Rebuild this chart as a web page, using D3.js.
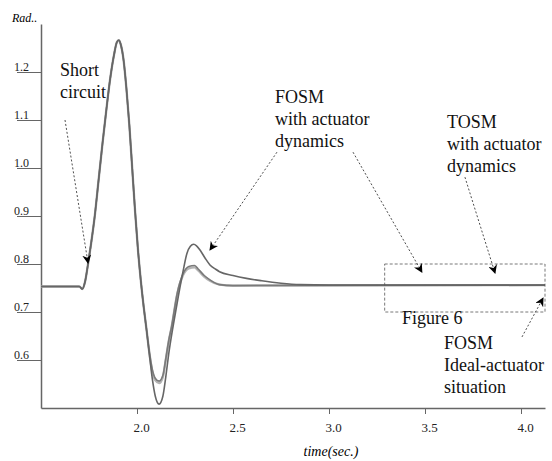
<!DOCTYPE html>
<html>
<head>
<meta charset="utf-8">
<script src="https://cdn.jsdelivr.net/npm/d3@7"></script>
<style>
  body { margin: 0; background: #fff; }
  svg { display: block; }
  svg text { font-family: "Liberation Serif", "DejaVu Serif", serif; }
  .axis path, .axis line { stroke: #666; }
  .axis text { fill: #222; }
  .note { font-size: 18px; fill: #111; }
</style>
</head>
<body>
<script>
// Axis ticks
const xTicks = [2.0, 2.5, 3.0, 3.5, 4.0];
const yTicks = [0.6, 0.7, 0.8, 0.9, 1.0, 1.1, 1.2];

// Common part of the response (fault at ~1.7 s), [time, rad]
const commonPart = [
  [1.50, 0.753], [1.70, 0.753], [1.715, 0.748], [1.73, 0.764], [1.745, 0.80],
  [1.76, 0.84], [1.78, 0.90], [1.80, 0.975], [1.82, 1.05], [1.84, 1.12],
  [1.86, 1.185], [1.88, 1.235], [1.895, 1.262], [1.905, 1.266], [1.915, 1.258],
  [1.93, 1.225], [1.945, 1.165], [1.96, 1.09], [1.975, 1.00], [1.99, 0.91],
  [2.005, 0.83], [2.02, 0.765], [2.035, 0.71], [2.05, 0.662]
];

// FOSM with actuator dynamics
const fosmActuator = [
  [2.065, 0.61], [2.08, 0.56], [2.095, 0.525], [2.115, 0.508], [2.135, 0.525],
  [2.15, 0.565], [2.165, 0.612], [2.19, 0.675], [2.215, 0.732], [2.24, 0.785],
  [2.26, 0.822], [2.278, 0.837], [2.295, 0.841], [2.31, 0.838], [2.33, 0.828],
  [2.355, 0.812], [2.38, 0.798], [2.41, 0.789], [2.43, 0.784], [2.5, 0.776],
  [2.57, 0.770], [2.65, 0.765], [2.75, 0.760], [2.85, 0.757], [3.0, 0.756],
  [4.125, 0.756]
];

// FOSM ideal-actuator situation
const fosmIdeal = [
  [2.065, 0.615], [2.08, 0.58], [2.095, 0.562], [2.115, 0.556], [2.135, 0.568],
  [2.149, 0.60], [2.165, 0.64], [2.18, 0.669], [2.21, 0.74], [2.24, 0.78],
  [2.27, 0.795], [2.30, 0.797], [2.32, 0.789], [2.35, 0.776], [2.38, 0.767],
  [2.43, 0.757], [2.5, 0.755], [4.125, 0.756]
];

// TOSM with actuator dynamics
const tosmActuator = [
  [2.065, 0.613], [2.08, 0.575], [2.095, 0.558], [2.115, 0.552], [2.135, 0.565],
  [2.149, 0.598], [2.165, 0.638], [2.18, 0.668], [2.21, 0.738], [2.24, 0.777],
  [2.27, 0.791], [2.30, 0.793], [2.32, 0.786], [2.35, 0.774], [2.38, 0.765],
  [2.43, 0.757], [2.5, 0.755], [4.125, 0.756]
];

// Annotations in data units
const notes = [
  { x: 1.599, y: 1.192, lines: ["Short", "circuit"] },
  { x: 2.719, y: 1.136, lines: ["FOSM", "with actuator", "dynamics"] },
  { x: 3.615, y: 1.083, lines: ["TOSM", "with actuator", "dynamics"] },
  { x: 3.380, y: 0.675, lines: ["Figure 6"] },
  { x: 3.599, y: 0.622, lines: ["FOSM", "Ideal-actuator", "situation"] }
];
const arrows = [
  { from: [1.625, 1.100], to: [1.745, 0.802] },
  { from: [2.729, 1.033], to: [2.380, 0.829] },
  { from: [3.125, 1.033], to: [3.484, 0.783] },
  { from: [3.708, 0.981], to: [3.865, 0.781] },
  { from: [4.005, 0.648], to: [4.115, 0.729] }
];
const zoomBox = { x0: 3.29, x1: 4.125, y0: 0.7, y1: 0.8 };

const W = 552, H = 461;
const margin = { left: 41, right: 7, top: 24, bottom: 53 };

const x = d3.scaleLinear().domain([1.5, 4.125]).range([margin.left, W - margin.right]);
const y = d3.scaleLinear().domain([0.5, 1.3]).range([H - margin.bottom, margin.top]);

const svg = d3.select("body").append("svg").attr("width", W).attr("height", H);

// Y axis, ticks run left under the labels
const yAxis = svg.append("g")
  .attr("class", "axis")
  .attr("transform", `translate(${margin.left},0)`)
  .call(d3.axisLeft(y).tickValues(yTicks).tickSizeInner(24).tickSizeOuter(0).tickFormat(d3.format(".1f")));
yAxis.attr("font-family", null);
yAxis.select(".domain").attr("stroke-width", 1.5);
yAxis.selectAll(".tick line").attr("stroke", "#777");
yAxis.selectAll(".tick text")
  .attr("text-anchor", "start")
  .attr("x", -27)
  .attr("dy", "-0.15em")
  .style("font-size", "12px");

// X axis
const xAxis = svg.append("g")
  .attr("class", "axis")
  .attr("transform", `translate(0,${y(0.5)})`)
  .call(d3.axisBottom(x).tickValues(xTicks).tickSizeInner(6).tickSizeOuter(0).tickPadding(9).tickFormat(d3.format(".1f")));
xAxis.attr("font-family", null);
xAxis.select(".domain").attr("stroke-width", 1.5);
xAxis.selectAll(".tick text").attr("dx", 4).style("font-size", "13px");

// Axis titles
svg.append("text")
  .attr("x", 12).attr("y", 22)
  .style("font-style", "italic").style("font-size", "12px")
  .text("Rad..");
svg.append("text")
  .attr("x", x(3.0) + 2).attr("y", 456)
  .attr("text-anchor", "middle")
  .style("font-style", "italic").style("font-size", "14px")
  .text("time(sec.)");

// Curves
const line = d3.line().x(d => x(d[0])).y(d => y(d[1])).curve(d3.curveMonotoneX);
const series = [
  { data: commonPart.concat(tosmActuator), color: "#b4b4b4", width: 2.4 },
  { data: commonPart.concat(fosmIdeal), color: "#7a7a7a", width: 1.6 },
  { data: commonPart.concat(fosmActuator), color: "#666", width: 1.6 }
];
svg.append("g").selectAll("path")
  .data(series)
  .join("path")
  .attr("d", d => line(d.data))
  .attr("fill", "none")
  .attr("stroke", d => d.color)
  .attr("stroke-width", d => d.width);

// Dashed zoom box
svg.append("rect")
  .attr("x", x(zoomBox.x0))
  .attr("y", y(zoomBox.y1))
  .attr("width", x(zoomBox.x1) - x(zoomBox.x0))
  .attr("height", y(zoomBox.y0) - y(zoomBox.y1))
  .attr("fill", "none")
  .attr("stroke", "#555")
  .attr("stroke-width", 0.8)
  .attr("stroke-dasharray", "3,2");

// Arrow marker
svg.append("defs").append("marker")
  .attr("id", "head")
  .attr("viewBox", "0 0 10 10")
  .attr("refX", 9).attr("refY", 5)
  .attr("markerWidth", 9).attr("markerHeight", 9)
  .attr("markerUnits", "userSpaceOnUse")
  .attr("orient", "auto")
  .append("path")
  .attr("d", "M0,0 L10,5 L0,10 L3,5 z")
  .attr("fill", "#000");

svg.append("g").selectAll("line")
  .data(arrows)
  .join("line")
  .attr("x1", d => x(d.from[0])).attr("y1", d => y(d.from[1]))
  .attr("x2", d => x(d.to[0])).attr("y2", d => y(d.to[1]))
  .attr("stroke", "#222")
  .attr("stroke-width", 0.8)
  .attr("stroke-dasharray", "2,2")
  .attr("marker-end", "url(#head)");

// Text notes
const noteG = svg.append("g").selectAll("text")
  .data(notes)
  .join("text")
  .attr("class", "note")
  .attr("x", d => x(d.x))
  .attr("y", d => y(d.y));
noteG.selectAll("tspan")
  .data(d => d.lines.map((t, i) => ({ t, i, x: x(d.x) })))
  .join("tspan")
  .attr("x", d => d.x)
  .attr("dy", d => (d.i === 0 ? 0 : 22))
  .text(d => d.t);
</script>
</body>
</html>
